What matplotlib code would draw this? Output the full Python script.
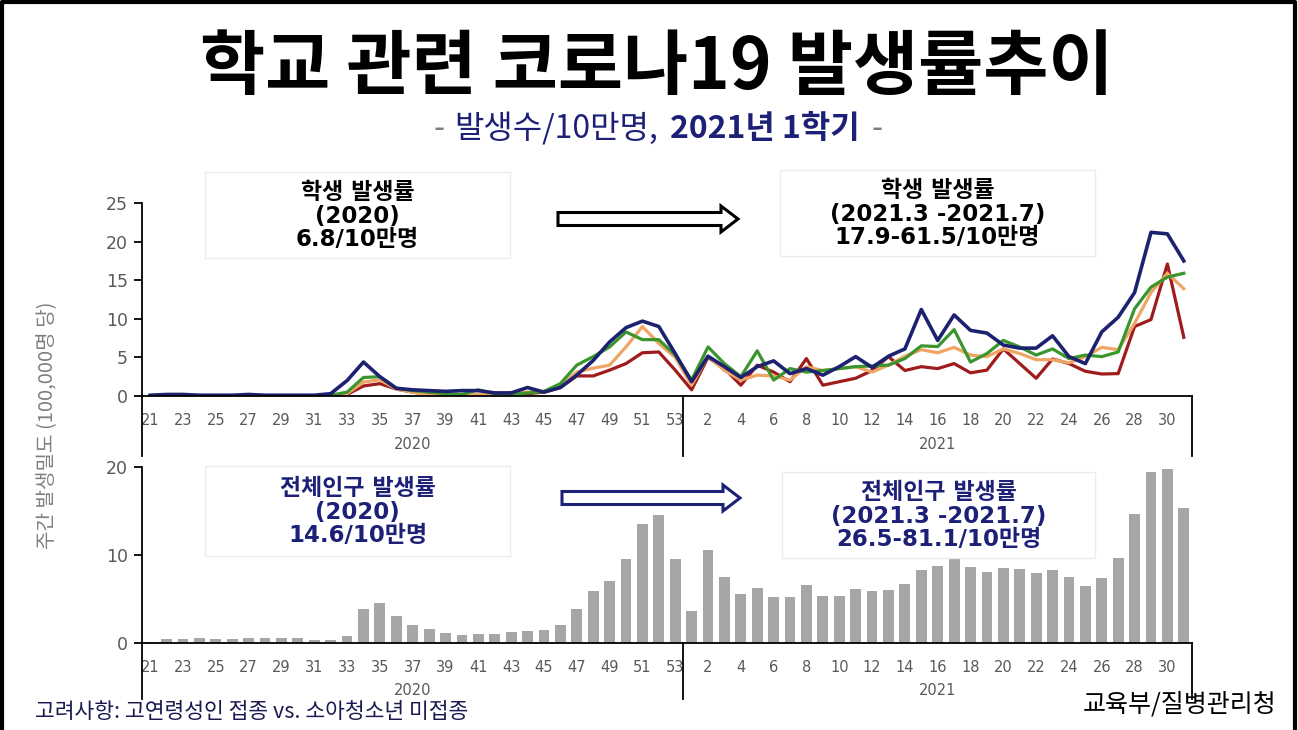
import matplotlib
matplotlib.use('Agg')
import matplotlib.pyplot as plt
import matplotlib.patches as mpatches
import matplotlib.transforms as mtransforms
import numpy as np

plt.rcParams['font.family'] = ['Noto Sans CJK KR', 'DejaVu Sans']

# --- data (주간 발생률, 10만명 당) ---
weeks_2020 = list(range(21, 54))
weeks_2021 = list(range(1, 32))
week_labels = [str(w) for w in weeks_2020 + weeks_2021]
year_labels = ['2020', '2021']

# 학생 발생률 (4개 계열)
series_navy = [0.1, 0.2, 0.2, 0.1, 0.1, 0.1, 0.2, 0.1, 0.1, 0.1, 0.1, 0.3, 2.0, 4.4, 2.5, 1.0, 0.8,
               0.7, 0.6, 0.7, 0.7, 0.4, 0.4, 1.1, 0.5, 1.1, 2.7, 4.6, 7.0, 8.85, 9.7, 9.0, 5.5,
               1.85, 5.15, 3.8, 2.4, 3.8, 4.55, 2.9, 3.55, 2.7, 3.8, 5.1, 3.7, 5.15, 6.1, 11.2, 7.2,
               10.5, 8.5, 8.15, 6.6, 6.2, 6.2, 7.8, 5.1, 4.2, 8.3, 10.2, 13.4, 21.2, 21.0, 17.5]
series_green = [0.0, 0.1, 0.1, 0.0, 0.0, 0.0, 0.1, 0.0, 0.0, 0.0, 0.0, 0.1, 0.5, 2.4, 2.5, 1.0, 0.7,
                0.5, 0.3, 0.2, 0.8, 0.3, 0.2, 0.4, 0.6, 1.6, 4.0, 5.1, 6.35, 8.3, 7.3, 7.3, 5.3,
                2.06, 6.35, 4.2, 2.5, 5.85, 2.06, 3.55, 3.1, 3.3, 3.55, 3.8, 3.9, 4.0, 4.85, 6.5, 6.4,
                8.6, 4.4, 5.5, 7.2, 6.35, 5.3, 6.1, 4.85, 5.3, 5.1, 5.7, 11.3, 14.1, 15.4, 15.9]
series_orange = [0.0, 0.1, 0.1, 0.0, 0.0, 0.0, 0.1, 0.0, 0.0, 0.0, 0.0, 0.1, 0.3, 1.8, 2.1, 0.9, 0.5,
                 0.1, 0.0, 0.1, 0.2, 0.2, 0.3, 0.5, 0.6, 1.3, 3.1, 3.6, 4.0, 6.35, 9.0, 6.8, 5.0,
                 1.4, 5.15, 3.3, 2.06, 2.7, 2.6, 2.06, 3.8, 3.3, 3.55, 3.8, 3.1, 4.0, 5.15, 6.0, 5.6,
                 6.3, 5.3, 5.1, 6.1, 5.5, 4.7, 4.7, 4.3, 5.1, 6.3, 6.0, 9.4, 13.4, 15.9, 13.9]
series_red = [0.0, 0.0, 0.0, 0.0, 0.0, 0.0, 0.0, 0.0, 0.0, 0.0, 0.0, 0.0, 0.2, 1.3, 1.6, 0.9, 0.5,
              0.2, 0.1, 0.0, 0.1, 0.3, 0.4, 0.3, 0.5, 1.1, 2.6, 2.6, 3.35, 4.2, 5.6, 5.7, 3.35,
              0.8, 5.0, 3.55, 1.4, 4.0, 3.1, 1.85, 4.85, 1.4, 1.85, 2.3, 3.3, 5.1, 3.3, 3.8, 3.55,
              4.2, 3.0, 3.35, 6.1, 4.2, 2.3, 4.8, 4.2, 3.2, 2.85, 2.9, 9.0, 9.9, 17.1, 7.6]

# 전체인구 발생률
population_rate = [0.1, 0.45, 0.45, 0.6, 0.45, 0.45, 0.6, 0.6, 0.6, 0.6, 0.35, 0.35, 0.85, 3.9, 4.6,
                   3.1, 2.0, 1.6, 1.15, 0.9, 1.0, 1.0, 1.25, 1.35, 1.5, 2.0, 3.9, 5.9, 7.1, 9.5,
                   13.5, 14.5, 9.5,
                   3.6, 10.6, 7.5, 5.6, 6.25, 5.2, 5.2, 6.6, 5.3, 5.3, 6.1, 5.9, 6.0, 6.75, 8.25,
                   8.8, 9.5, 8.6, 8.1, 8.5, 8.4, 8.0, 8.3, 7.5, 6.5, 7.4, 9.7, 14.7, 19.4, 19.8, 15.3]

W, H = 1298, 730
NAVY = '#1c2077'
GRAY_TXT = '#595959'
BOX_FONT = ['DejaVu Sans', 'Noto Sans CJK KR']

fig = plt.figure(figsize=(W / 100, H / 100), dpi=100)
fig.patch.set_facecolor('white')

x = np.arange(len(week_labels))
n2020 = len(weeks_2020)


def setup_axis(ax, ymax, yticks, ext, lab_y):
    ax.set_xlim(-0.5, len(x) - 0.5)
    ax.set_ylim(0, ymax)
    ax.set_yticks(yticks)
    ax.set_xticks(x[::2])
    ax.set_xticklabels(week_labels[::2], family='DejaVu Sans')
    for s in ['top', 'right']:
        ax.spines[s].set_visible(False)
    for s in ['left', 'bottom']:
        ax.spines[s].set_linewidth(1.3)
    ax.tick_params(axis='x', length=0, pad=12, labelcolor=GRAY_TXT, labelsize=10.5)
    ax.tick_params(axis='y', length=6, width=1.3, direction='out', labelcolor=GRAY_TXT,
                   labelsize=12.5, pad=4)
    for lab in ax.get_yticklabels():
        lab.set_family('DejaVu Sans')
    tr = mtransforms.blended_transform_factory(ax.transData, ax.transAxes)
    # 다단 축 구분선
    for xv in [-0.5, n2020 - 0.5, len(x) - 0.5]:
        ax.plot([xv, xv], [0, -ext], color='black', lw=1.3, transform=tr, clip_on=False)
    ax.text((n2020 - 1) / 2, lab_y, year_labels[0], transform=tr, ha='center', va='center',
            color=GRAY_TXT, fontsize=10.5, family='DejaVu Sans')
    ax.text((n2020 + len(x) - 1) / 2, lab_y, year_labels[1], transform=tr, ha='center',
            va='center', color=GRAY_TXT, fontsize=10.5, family='DejaVu Sans')


# 위: 학생 발생률 선그래프
ax1 = fig.add_axes([142 / W, 1 - 396 / H, 1050 / W, 193 / H])
ax1.plot(x, series_red, color='#a01c1c', lw=2.3)
ax1.plot(x, series_orange, color='#f0a465', lw=2.3)
ax1.plot(x, series_green, color='#3a962c', lw=2.3)
ax1.plot(x, series_navy, color='#1d2270', lw=2.6)
setup_axis(ax1, 25, range(0, 26, 5), 0.31, -0.25)

# 아래: 전체인구 발생률 막대그래프
ax2 = fig.add_axes([142 / W, 1 - 643 / H, 1050 / W, 176 / H])
ax2.bar(x, population_rate, width=0.66, color='#a6a6a6')
setup_axis(ax2, 20, [0, 10, 20], 0.32, -0.27)

fig.text(48 / W, 1 - 425 / H, '주간 발생밀도 (100,000명 당)', rotation=90, ha='center',
         va='center', color='#7f7f7f', fontsize=14.5)

# 주석용 픽셀 좌표 오버레이
ov = fig.add_axes([0, 0, 1, 1])
ov.set_xlim(0, W)
ov.set_ylim(H, 0)
ov.axis('off')
ov.patch.set_alpha(0)

# 테두리
ov.plot([2, 2, W - 3, W - 3], [H + 5, 2, 2, H + 5], color='black', lw=3, clip_on=False)

ov.text(657, 68, '학교 관련 코로나19 발생률추이', ha='center', va='center', fontsize=51,
        fontweight='bold', color='black')

# 부제목 (색이 섞여 있어 조각별로 배치)
sub_parts = [('-', '#7f7f7f', 'normal', 10), ('발생수/10만명,', NAVY, 'normal', 12),
             ('2021년 1학기', NAVY, 'bold', 12), ('-', '#7f7f7f', 'normal', 0)]
renderer = fig.canvas.get_renderer()
texts = []
total = 0
for s, c, wgt, gap in sub_parts:
    t = ov.text(0, 129, s, ha='left', va='center', fontsize=23, color=c, fontweight=wgt)
    wdt = t.get_window_extent(renderer).width
    texts.append((t, wdt, gap))
    total += wdt + gap
cx = 658 - total / 2
for t, wdt, gap in texts:
    t.set_x(cx)
    cx += wdt + gap

# 설명 상자
boxes = [
    (205, 172, 305, 86, '학생 발생률\n(2020)\n6.8/10만명', 'black'),
    (780, 170, 315, 86, '학생 발생률\n(2021.3 -2021.7)\n17.9-61.5/10만명', 'black'),
    (205, 466, 305, 90, '전체인구 발생률\n(2020)\n14.6/10만명', NAVY),
    (782, 472, 313, 86, '전체인구 발생률\n(2021.3 -2021.7)\n26.5-81.1/10만명', NAVY),
]
for bx, by, bw, bh, txt, col in boxes:
    ov.add_patch(mpatches.Rectangle((bx, by), bw, bh, fc='white', ec='#ececec', lw=1))
    ov.text(bx + bw / 2, by + bh / 2 + 1, txt, ha='center', va='center', fontsize=16.5,
            fontweight='bold', color=col, linespacing=1.05, family=BOX_FONT)


def block_arrow(x0, x1, yc, col):
    head = 17
    pts = [(x0, yc - 6.5), (x1 - head, yc - 6.5), (x1 - head, yc - 13), (x1, yc),
           (x1 - head, yc + 13), (x1 - head, yc + 6.5), (x0, yc + 6.5)]
    ov.add_patch(mpatches.Polygon(pts, closed=True, fc='white', ec=col, lw=2.2))


block_arrow(558, 738, 219, 'black')
block_arrow(562, 740, 498, NAVY)

ov.text(35, 712, '고려사항: 고연령성인 접종 vs. 소아청소년 미접종', ha='left', va='center',
        fontsize=15.5, color='#1a1a50')
ov.text(1277, 705, '교육부/질병관리청', ha='right', va='center', fontsize=18, color='black')

fig.savefig('out.png', dpi=100)
